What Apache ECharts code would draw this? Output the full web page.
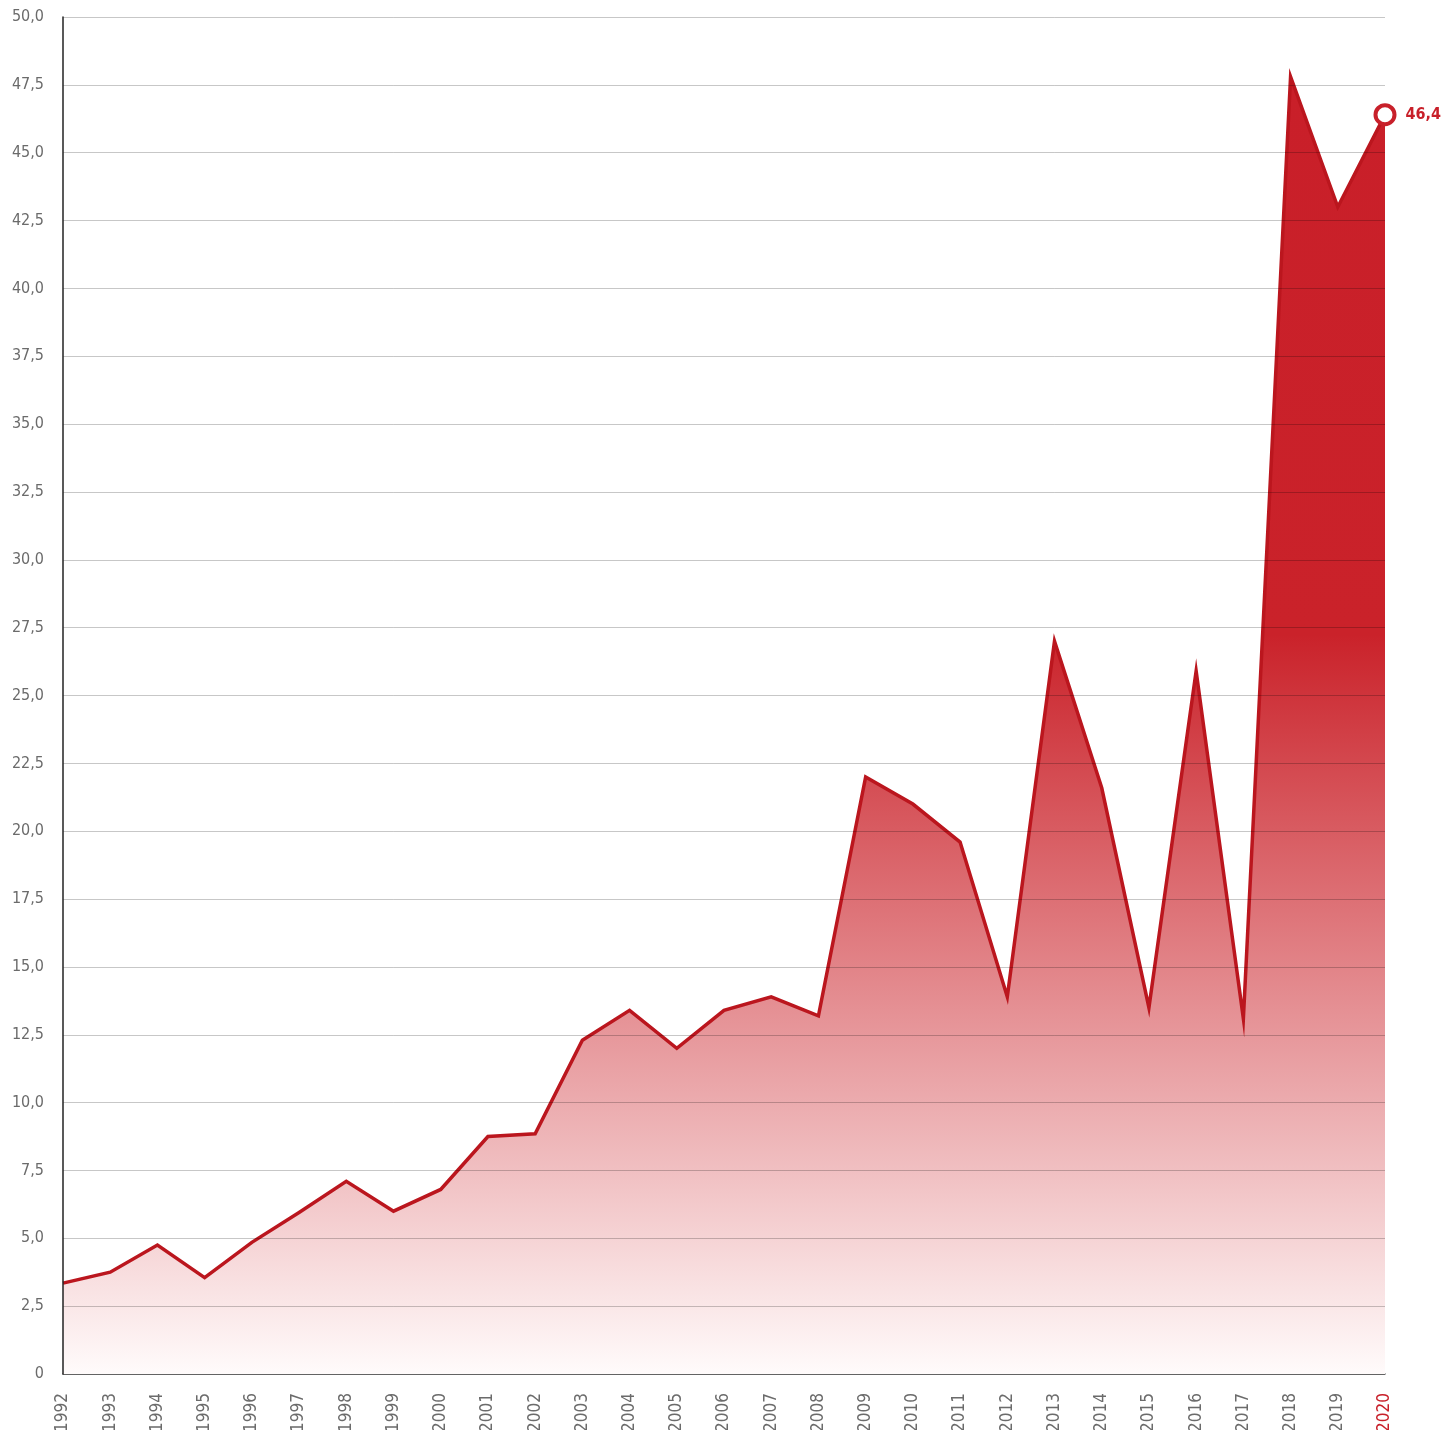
<!DOCTYPE html>
<html>
<head>
<meta charset="utf-8">
<script src="https://cdn.jsdelivr.net/npm/echarts@6/dist/echarts.min.js"></script>
<style>
  html, body { margin: 0; padding: 0; background: #fff; }
  #chart { width: 1442px; height: 1430px; }
</style>
</head>
<body>
<div id="chart"></div>
<script>
// years on the x axis
var years = ["1992", "1993", "1994", "1995", "1996", "1997", "1998", "1999", "2000",
  "2001", "2002", "2003", "2004", "2005", "2006", "2007", "2008", "2009", "2010",
  "2011", "2012", "2013", "2014", "2015", "2016", "2017", "2018", "2019", "2020"];
// values
var values = [3.35, 3.75, 4.75, 3.55, 4.85, 5.95, 7.1, 6.0, 6.8, 8.75, 8.85, 12.3,
  13.4, 12.0, 13.4, 13.9, 13.2, 22.0, 21.0, 19.6, 13.9, 27.0, 21.6, 13.5, 25.9,
  13.1, 47.8, 43.0, 46.4];
var yMin = 0, yMax = 50, yStep = 2.5;

var RED = "#c8202a";
var font = "'Liberation Sans Narrow', 'DejaVu Sans Condensed', 'Noto Sans', sans-serif";

// only the last point gets a marker + label
var seriesData = values.map(function (v, i) {
  if (i === values.length - 1) {
    return {
      value: v,
      symbol: "circle",
      symbolSize: 19,
      itemStyle: { color: "#fff", borderColor: RED, borderWidth: 4 },
      label: {
        show: true,
        position: "right",
        distance: 9,
        color: RED,
        fontFamily: font,
        fontWeight: "bold",
        fontSize: 16,
        formatter: function (p) { return String(p.value).replace(".", ","); }
      }
    };
  }
  return v;
});

var chart = echarts.init(document.getElementById("chart"));
chart.setOption({
  animation: false,
  grid: { left: 63, right: 57, top: 17, bottom: 56, outerBoundsMode: "none", containLabel: false },
  xAxis: {
    type: "category",
    data: years,
    boundaryGap: false,
    axisLine: { lineStyle: { color: "#555", width: 1.5 } },
    axisTick: { show: false },
    axisLabel: {
      rotate: 90,
      margin: 19,
      fontSize: 17,
      fontFamily: font,
      color: function (v) { return v === "2020" ? RED : "#6b6b6b"; }
    },
    splitLine: { show: false }
  },
  yAxis: {
    type: "value",
    min: yMin,
    max: yMax,
    interval: yStep,
    z: 3,
    axisLine: { show: true, lineStyle: { color: "#222", width: 1.5 } },
    axisTick: { show: false },
    axisLabel: {
      margin: 19,
      fontSize: 16,
      fontFamily: font,
      color: "#6b6b6b",
      formatter: function (v) { return v === 0 ? "0" : v.toFixed(1).replace(".", ","); }
    },
    splitLine: { lineStyle: { color: "rgba(0,0,0,0.22)", width: 1 } }
  },
  series: [{
    type: "line",
    data: seriesData,
    symbol: "none",
    showSymbol: true,
    z: 2,
    lineStyle: { color: "#bb161e", width: 3.5, join: "miter", miterLimit: 12 },
    areaStyle: {
      opacity: 1,
      color: new echarts.graphic.LinearGradient(0, 0, 0, 1, [
        { offset: 0, color: "#c91f29" },
        { offset: 0.43, color: "#ca222a" },
        { offset: 1, color: "#fffbfb" }
      ])
    }
  }]
});
</script>
</body>
</html>
